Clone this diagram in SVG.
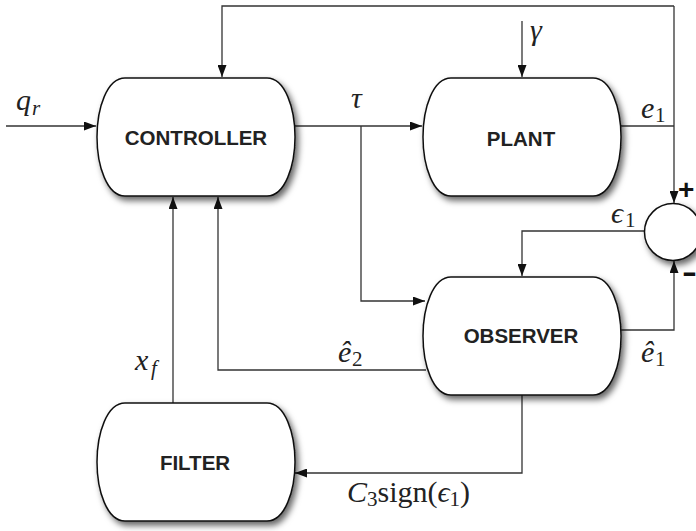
<svg xmlns="http://www.w3.org/2000/svg" width="696" height="531" viewBox="0 0 696 531">
<style>
.box{fill:#fff;stroke:#111;stroke-width:1.5;filter:url(#sh)}
.lbl{font-family:"Liberation Sans",Arial,Helvetica,sans-serif;font-weight:bold;font-size:20.5px;fill:#222;text-anchor:middle}
.ln{fill:none;stroke:#333;stroke-width:1.3}
.m{font-family:"Liberation Serif","DejaVu Serif",serif;font-size:30px;font-style:italic;fill:#222}
.s{font-family:"Liberation Serif","DejaVu Serif",serif;font-size:21px;font-style:normal;fill:#222}
.si{font-family:"Liberation Serif","DejaVu Serif",serif;font-size:21px;font-style:italic;fill:#222}
.r{font-style:normal}
.sg{font-family:"Liberation Sans",Arial,sans-serif;font-weight:bold;font-size:28px;fill:#111}
</style>
<defs>
<filter id="sh" x="-20%" y="-20%" width="140%" height="150%">
<feDropShadow dx="3" dy="4" stdDeviation="3" flood-color="#000" flood-opacity="0.6"/>
</filter>
<marker id="ah" markerUnits="userSpaceOnUse" markerWidth="13" markerHeight="9" refX="12" refY="4.5" orient="auto">
<path d="M0,0 L12,4.5 L0,9 Z" fill="#111"/>
</marker>
<path id="shape" d="M28,0 H170 C188,0 198,30 198,59 C198,88 188,118 170,118 H28 C10,118 0,88 0,59 C0,30 10,0 28,0 Z"/>
</defs>

<g id="connectors">
<path class="ln" d="M6,126 H96" marker-end="url(#ah)"/>
<path class="ln" d="M295,126 H422" marker-end="url(#ah)"/>
<path class="ln" d="M361,126 V301 H425" marker-end="url(#ah)"/>
<path class="ln" d="M522,21 V77" marker-end="url(#ah)"/>
<path class="ln" d="M620,126 H674"/>
<path class="ln" d="M674,6 H222 V77" marker-end="url(#ah)"/>
<path class="ln" d="M674,6 V203" marker-end="url(#ah)"/>
<path class="ln" d="M645,231 H522 V276" marker-end="url(#ah)"/>
<path class="ln" d="M619,330 H674 V261" marker-end="url(#ah)"/>
<path class="ln" d="M426,370 H218 V197" marker-end="url(#ah)"/>
<path class="ln" d="M173,403 V197" marker-end="url(#ah)"/>
<path class="ln" d="M522,394 V473 H295" marker-end="url(#ah)"/>
</g>

<g id="controller" transform="translate(97,78)">
<use href="#shape" class="box"/>
<text class="lbl" x="99" y="67">CONTROLLER</text>
</g>
<g id="plant" transform="translate(423,78)">
<use href="#shape" class="box"/>
<text class="lbl" x="98" y="68">PLANT</text>
</g>
<g id="observer" transform="translate(423,277)">
<use href="#shape" class="box"/>
<text class="lbl" x="98" y="66">OBSERVER</text>
</g>
<g id="filter" transform="translate(97,403)">
<use href="#shape" class="box"/>
<text class="lbl" x="98" y="67">FILTER</text>
</g>
<g id="sum">
<circle cx="673" cy="232" r="28.5" fill="#fff" stroke="#111" stroke-width="1.5" filter="url(#sh)"/>
<text class="sg" x="678" y="199">+</text>
<text class="sg" x="688" y="282" transform="translate(-350,0) scale(1.5,1)" style="font-size:30px">-</text>
</g>

<g id="labels">
<text class="m" x="16" y="110">q</text><text class="si" x="32" y="115">r</text>
<text class="m" x="351" y="108">τ</text>
<text class="m" x="530" y="40">γ</text>
<text class="m" x="641" y="118">e</text><text class="s" x="655" y="122">1</text>
<text class="m" x="611" y="223">ϵ</text><text class="s" x="625" y="227">1</text>
<text class="m" x="641" y="362">ê</text><text class="s" x="655" y="366">1</text>
<text class="m" x="338" y="362">ê</text><text class="s" x="352" y="366">2</text>
<text class="m" x="135" y="370">x</text><text class="si" x="151" y="375">f</text>
<text class="m" x="347" y="502">C<tspan class="s" dy="4">3</tspan><tspan class="r" dy="-4">sign(</tspan>ϵ<tspan class="s" dy="4">1</tspan><tspan class="r" dy="-4">)</tspan></text>
</g>
</svg>
